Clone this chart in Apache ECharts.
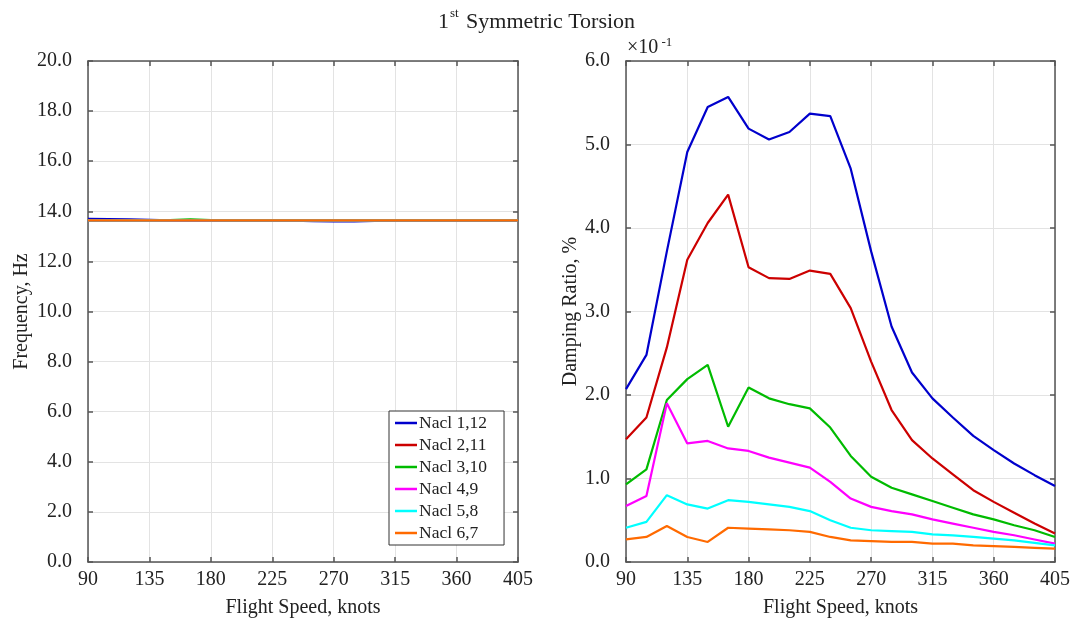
<!DOCTYPE html>
<html>
<head>
<meta charset="utf-8">
<title>1st Symmetric Torsion</title>
<script src="https://cdn.jsdelivr.net/npm/echarts@6/dist/echarts.min.js"></script>
<style>
  html, body { margin: 0; padding: 0; background: #ffffff; }
  #chart { width: 1073px; height: 623px; }
</style>
</head>
<body>
<div id="chart"></div>
<script>
// Flight speeds (knots) shared by both panels
const speeds = [90, 105, 120, 135, 150, 165, 180, 195, 210, 225, 240, 255, 270, 285, 300, 315, 330, 345, 360, 375, 390, 405];

const seriesNames = ['Nacl 1,12', 'Nacl 2,11', 'Nacl 3,10', 'Nacl 4,9', 'Nacl 5,8', 'Nacl 6,7'];
const seriesColors = ['#0000cc', '#cc0000', '#00bb00', '#ff00ff', '#00ffff', '#ff6a00'];

// Frequency, Hz
const freq1 = [13.70, 13.69, 13.68, 13.66, 13.64, 13.63, 13.63, 13.63, 13.63, 13.63, 13.63, 13.61, 13.60, 13.60, 13.62, 13.63, 13.63, 13.63, 13.63, 13.63, 13.63, 13.63];
const freq2 = [13.63, 13.63, 13.63, 13.63, 13.63, 13.63, 13.63, 13.63, 13.63, 13.63, 13.63, 13.63, 13.63, 13.63, 13.63, 13.63, 13.63, 13.63, 13.63, 13.63, 13.63, 13.63];
const freq3 = [13.64, 13.64, 13.64, 13.64, 13.65, 13.68, 13.65, 13.64, 13.64, 13.64, 13.64, 13.64, 13.64, 13.64, 13.64, 13.64, 13.64, 13.64, 13.64, 13.64, 13.64, 13.64];
const freq4 = [13.64, 13.64, 13.64, 13.64, 13.64, 13.64, 13.64, 13.64, 13.64, 13.64, 13.64, 13.64, 13.64, 13.64, 13.64, 13.64, 13.64, 13.64, 13.64, 13.64, 13.64, 13.64];
const freq5 = [13.64, 13.64, 13.64, 13.64, 13.64, 13.64, 13.64, 13.64, 13.64, 13.64, 13.64, 13.64, 13.64, 13.64, 13.64, 13.64, 13.64, 13.64, 13.64, 13.64, 13.64, 13.64];
const freq6 = [13.64, 13.64, 13.64, 13.64, 13.64, 13.64, 13.64, 13.64, 13.64, 13.64, 13.64, 13.64, 13.64, 13.64, 13.64, 13.64, 13.64, 13.64, 13.64, 13.64, 13.64, 13.64];

// Damping ratio, % (scaled by 10^-1)
const damp1 = [2.07, 2.48, 3.72, 4.91, 5.45, 5.57, 5.19, 5.06, 5.15, 5.37, 5.34, 4.71, 3.72, 2.82, 2.27, 1.96, 1.73, 1.51, 1.34, 1.18, 1.04, 0.91];
const damp2 = [1.47, 1.73, 2.57, 3.62, 4.06, 4.40, 3.53, 3.40, 3.39, 3.49, 3.45, 3.04, 2.40, 1.82, 1.46, 1.24, 1.05, 0.86, 0.72, 0.59, 0.46, 0.34];
const damp3 = [0.93, 1.11, 1.94, 2.19, 2.36, 1.62, 2.09, 1.96, 1.89, 1.84, 1.61, 1.27, 1.02, 0.89, 0.81, 0.73, 0.65, 0.57, 0.51, 0.44, 0.38, 0.30];
const damp4 = [0.67, 0.79, 1.90, 1.42, 1.45, 1.36, 1.33, 1.25, 1.19, 1.13, 0.96, 0.76, 0.66, 0.61, 0.57, 0.51, 0.46, 0.41, 0.36, 0.32, 0.27, 0.22];
const damp5 = [0.41, 0.48, 0.80, 0.69, 0.64, 0.74, 0.72, 0.69, 0.66, 0.61, 0.50, 0.41, 0.38, 0.37, 0.36, 0.33, 0.32, 0.30, 0.28, 0.26, 0.23, 0.20];
const damp6 = [0.27, 0.30, 0.43, 0.30, 0.24, 0.41, 0.40, 0.39, 0.38, 0.36, 0.30, 0.26, 0.25, 0.24, 0.24, 0.22, 0.22, 0.20, 0.19, 0.18, 0.17, 0.16];

const freqData = [freq1, freq2, freq3, freq4, freq5, freq6];
const dampData = [damp1, damp2, damp3, damp4, damp5, damp6];

const FONT = '"Liberation Serif", "DejaVu Serif", serif';
const TEXT = '#222';
const AXIS_COLOR = '#555';

function pairs(vals) {
  return speeds.map((s, i) => [s, vals[i]]);
}

function xAxisDef(gridIndex, isTop) {
  return {
    type: 'value', gridIndex: gridIndex, position: isTop ? 'top' : 'bottom',
    min: 90, max: 405, interval: 45,
    name: isTop ? '' : 'Flight Speed, knots',
    nameLocation: 'middle', nameGap: 36,
    nameTextStyle: { fontFamily: FONT, fontSize: 20, color: TEXT },
    axisLine: { show: true, onZero: false, lineStyle: { color: AXIS_COLOR, width: 1.5 } },
    axisTick: { show: true, inside: true, length: 5, lineStyle: { color: AXIS_COLOR, width: 1.5 } },
    axisLabel: { show: !isTop, fontFamily: FONT, fontSize: 20, color: TEXT, margin: 8 },
    splitLine: { show: !isTop, lineStyle: { color: '#e3e3e3', width: 1 } }
  };
}

function yAxisDef(gridIndex, isRight, max, interval, name, gap) {
  return {
    type: 'value', gridIndex: gridIndex, position: isRight ? 'right' : 'left',
    min: 0, max: max, interval: interval,
    name: isRight ? '' : name,
    nameLocation: 'middle', nameGap: gap, nameRotate: 90,
    nameTextStyle: { fontFamily: FONT, fontSize: 20, color: TEXT },
    axisLine: { show: true, onZero: false, lineStyle: { color: AXIS_COLOR, width: 1.5 } },
    axisTick: { show: true, inside: true, length: 5, lineStyle: { color: AXIS_COLOR, width: 1.5 } },
    axisLabel: { show: !isRight, fontFamily: FONT, fontSize: 20, color: TEXT, margin: 16,
      formatter: v => v.toFixed(1) },
    splitLine: { show: !isRight, lineStyle: { color: '#e3e3e3', width: 1 } }
  };
}

const series = [];
seriesNames.forEach((name, i) => {
  series.push({
    name: name, type: 'line', xAxisIndex: 0, yAxisIndex: 0,
    data: pairs(freqData[i]), showSymbol: false, symbol: 'none',
    lineStyle: { color: seriesColors[i], width: 2.2 }, itemStyle: { color: seriesColors[i] },
    animation: false
  });
});
seriesNames.forEach((name, i) => {
  series.push({
    name: name, type: 'line', xAxisIndex: 2, yAxisIndex: 2,
    data: pairs(dampData[i]), showSymbol: false, symbol: 'none',
    lineStyle: { color: seriesColors[i], width: 2.2 }, itemStyle: { color: seriesColors[i] },
    animation: false
  });
});

const chart = echarts.init(document.getElementById('chart'), null, { renderer: 'canvas' });
chart.setOption({
  backgroundColor: '#ffffff',
  animation: false,
  title: {
    text: '{n|1}{s|st}{n| Symmetric Torsion}',
    left: 'center', top: 2,
    textStyle: {
      fontWeight: 'normal',
      rich: {
        n: { fontFamily: FONT, fontSize: 22, fontWeight: 'normal', color: TEXT, verticalAlign: 'bottom', lineHeight: 26 },
        s: { fontFamily: FONT, fontSize: 13, fontWeight: 'normal', color: TEXT, verticalAlign: 'top', lineHeight: 26, padding: [0, 2, 0, 1] }
      }
    }
  },
  grid: [
    { left: 88, top: 61, width: 430, height: 501 },
    { left: 626, top: 61, width: 429, height: 501 }
  ],
  xAxis: [xAxisDef(0, false), xAxisDef(0, true), xAxisDef(1, false), xAxisDef(1, true)],
  yAxis: [
    yAxisDef(0, false, 20, 2, 'Frequency, Hz', 56),
    yAxisDef(0, true, 20, 2, '', 0),
    yAxisDef(1, false, 6, 1, 'Damping Ratio, %', 44),
    yAxisDef(1, true, 6, 1, '', 0)
  ],
  legend: {
    orient: 'vertical', left: 389, top: 411,
    data: seriesNames,
    icon: 'rect', itemWidth: 22, itemHeight: 2.5, itemGap: 4,
    padding: [3, 17, 3, 6],
    borderColor: '#333', borderWidth: 1, backgroundColor: '#ffffff',
    textStyle: { fontFamily: FONT, fontSize: 17.5, color: TEXT, padding: [0, 0, 0, -3] }
  },
  graphic: [{
    type: 'text', left: 627, top: 36,
    style: {
      text: '{a|×10}{b| -1}',
      rich: {
        a: { fontFamily: FONT, fontSize: 20, fill: TEXT, verticalAlign: 'bottom', lineHeight: 22 },
        b: { fontFamily: FONT, fontSize: 13, fill: TEXT, verticalAlign: 'top', lineHeight: 22 }
      }
    }
  }],
  series: series
});
</script>
</body>
</html>
